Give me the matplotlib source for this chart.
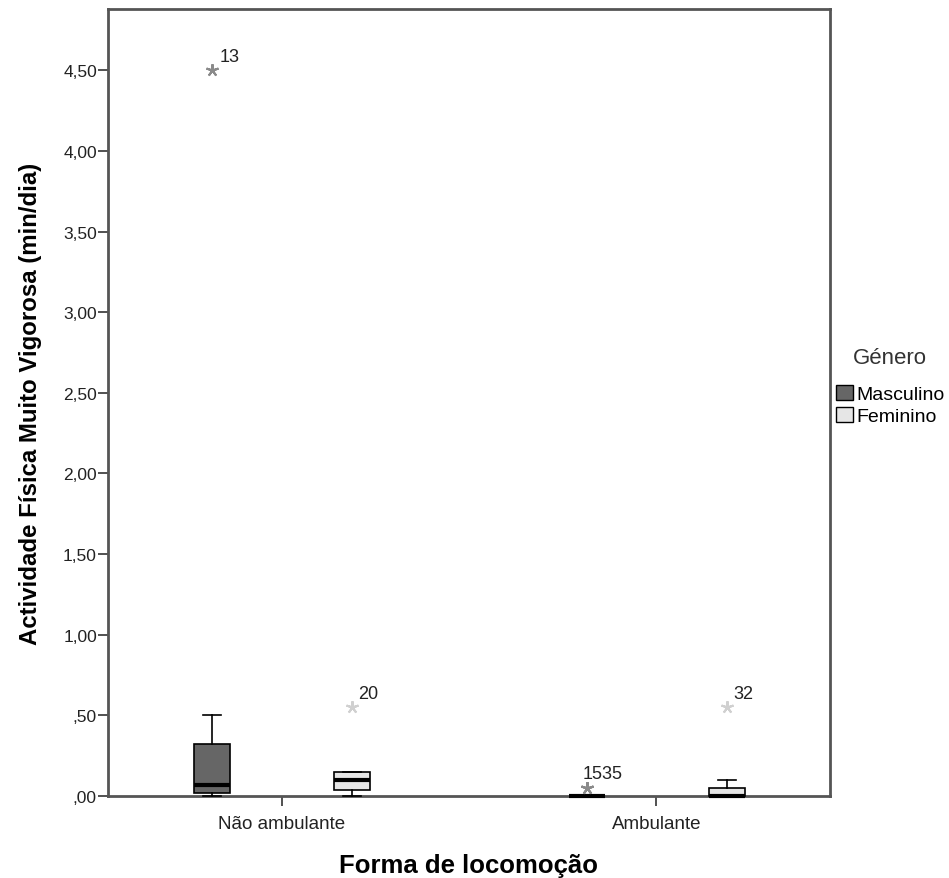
import numpy as np
import matplotlib
matplotlib.use("Agg")
import matplotlib.pyplot as plt
from matplotlib.patches import Patch

plt.rcParams['font.family'] = ['Liberation Sans', 'DejaVu Sans']

# categorias e grupos
locomocao = ["Não ambulante", "Ambulante"]
generos = ["Masculino", "Feminino"]
cores = ["#666666", "#e6e6e6"]
cores_estrela = ["#8a8a8a", "#d0d0d0"]

# estatísticas das caixas: [Não ambulante, Ambulante] para cada género
q1 = {"Masculino": [0.02, 0.0], "Feminino": [0.04, 0.0]}
med = {"Masculino": [0.07, 0.0], "Feminino": [0.10, 0.0]}
q3 = {"Masculino": [0.32, 0.0], "Feminino": [0.15, 0.05]}
whis_lo = {"Masculino": [0.0, 0.0], "Feminino": [0.0, 0.0]}
whis_hi = {"Masculino": [0.50, 0.0], "Feminino": [0.15, 0.10]}

# valores extremos e número do caso
extremos = {
    "Masculino": [[(4.50, "13")], [(0.05, "15"), (0.05, "35")]],
    "Feminino": [[(0.55, "20")], [(0.55, "32")]],
}

fig = plt.figure(figsize=(9.49, 8.79), dpi=100)
ax = fig.add_axes([0.1138, 0.0933, 0.7608, 0.8953])

desloc = [-0.185, 0.187]
for g, gen in enumerate(generos):
    stats = []
    for i in range(len(locomocao)):
        stats.append(dict(med=med[gen][i], q1=q1[gen][i], q3=q3[gen][i],
                          whislo=whis_lo[gen][i], whishi=whis_hi[gen][i],
                          fliers=[]))
    pos = np.arange(len(locomocao)) + desloc[g]
    bp = ax.bxp(stats, positions=pos, widths=0.096, patch_artist=True,
                showfliers=False, manage_ticks=False, zorder=3,
                boxprops=dict(facecolor=cores[g], edgecolor="black", linewidth=1.2),
                medianprops=dict(color="black", linewidth=3),
                whiskerprops=dict(color="black", linewidth=1.2),
                capprops=dict(color="black", linewidth=1.2))
    for arts in bp.values():
        for a in arts:
            a.set_clip_on(False)
    for i in range(len(locomocao)):
        pts = extremos[gen][i]
        if not pts:
            continue
        vals = [p[0] for p in pts]
        ax.plot([pos[i]] * len(vals), vals, linestyle="none", marker=(5, 2, 0),
                markersize=9, markeredgewidth=1.5, color=cores_estrela[g], zorder=4)
        rotulo = "".join(p[1] for p in pts)
        dx = 5 if len(pts) == 1 else -3
        ax.annotate(rotulo, (pos[i], vals[0]), xytext=(dx, 7),
                    textcoords="offset points", fontsize=13, color="#222222")

ax.set_xlim(-0.463, 1.463)
ax.set_ylim(0, 4.88)
ax.set_xticks(np.arange(len(locomocao)))
ax.set_xticklabels(locomocao)
yt = np.arange(0, 4.51, 0.5)
ax.set_yticks(yt)
ax.set_yticklabels([("%.2f" % v).replace(".", ",").lstrip("0") if v < 1 else ("%.2f" % v).replace(".", ",") for v in yt])
ax.tick_params(axis="both", labelcolor="#222222", length=7, width=1.2,
               direction="out", color="#333333")
ax.tick_params(axis="x", labelsize=13.5, pad=7)
ax.tick_params(axis="y", labelsize=12.5, pad=1)

for s in ax.spines.values():
    s.set_color("#555555")
    s.set_linewidth(2)

ax.set_xlabel("Forma de locomoção", fontsize=18.5, fontweight="bold", labelpad=15)
ax.set_ylabel("Actividade Física Muito Vigorosa (min/dia)", fontsize=17.3,
              fontweight="bold", labelpad=15)

# legenda: título à parte para manter o espaço até às entradas
fig.text(890 / 949, 1 - 358 / 879, "Género", fontsize=16, color="#333333",
         ha="center", va="center")
handles = [Patch(facecolor=cores[g], edgecolor="black", label=generos[g]) for g in range(2)]
leg = fig.legend(handles=handles, loc="center left",
                 bbox_to_anchor=(836 / 949, 1 - 406 / 879), frameon=False, fontsize=14,
                 handlelength=0.85, handleheight=0.85,
                 handletextpad=0.2, labelspacing=0.2, borderpad=0, borderaxespad=0)

fig.savefig("out.png", dpi=100)
